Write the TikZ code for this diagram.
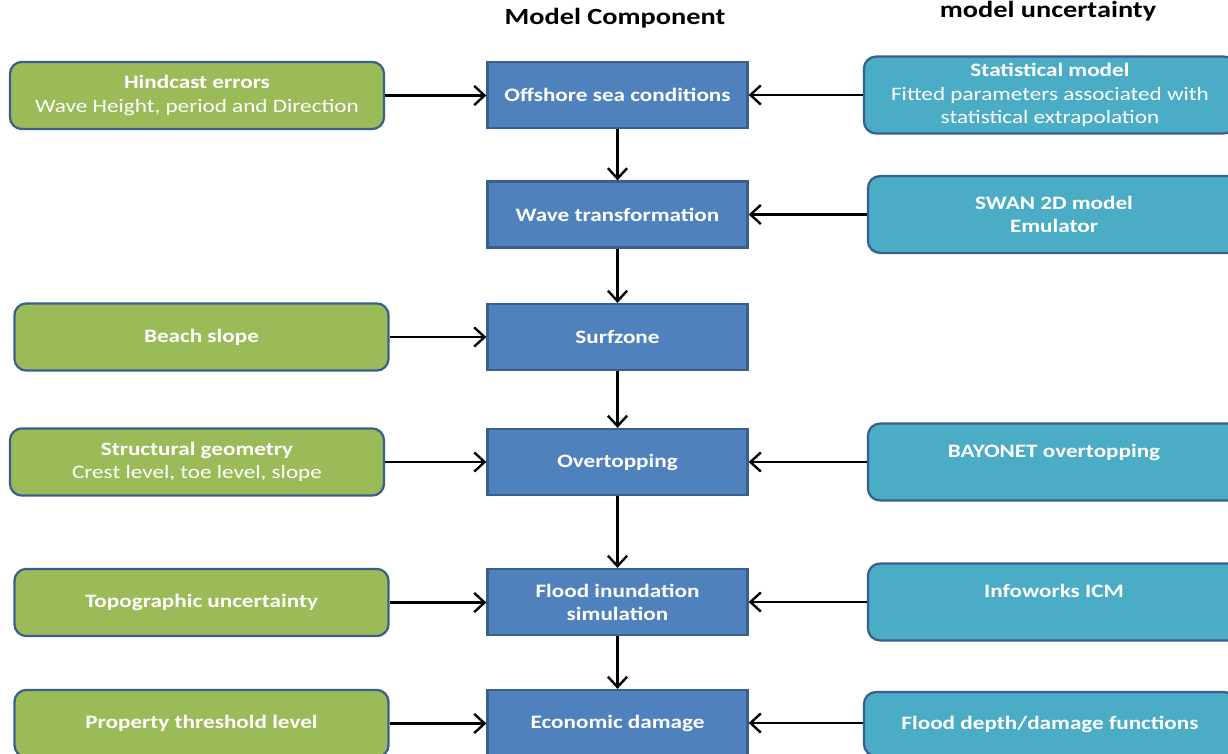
\documentclass[tikz,border=0pt]{standalone}
\usepackage{fontspec}
\setmainfont[FakeStretch=1.22]{Carlito}
\usepackage{xcolor}
\usepackage{tikz}
\usetikzlibrary{arrows.meta, positioning}

\definecolor{compblue}{HTML}{4F81BD}
\definecolor{inpgreen}{HTML}{9BBB59}
\definecolor{modcyan}{HTML}{4BACC6}
\definecolor{edgeblue}{HTML}{3A5F8C}

\begin{document}
\begin{tikzpicture}[
    x=0.025cm, y=-0.025cm,
    every node/.style={font=\fontsize{13.5}{16.5}\selectfont\bfseries, text=white, align=center},
    comp/.style={rectangle, draw=edgeblue, line width=1.6pt, fill=compblue,
                 minimum width=6.5cm, minimum height=1.65cm, inner sep=2pt},
    inp/.style={rectangle, draw=edgeblue, line width=1.6pt, fill=inpgreen, rounded corners=0.3cm,
                minimum width=9.35cm, minimum height=1.68cm, inner sep=2pt},
    umod/.style={rectangle, draw=edgeblue, line width=1.6pt, fill=modcyan, rounded corners=0.3cm,
                 minimum width=9.3cm, minimum height=1.92cm, inner sep=2pt},
    upper/.style={text height=0.3cm, text depth=0.55cm},
    head/.style={text=black, font=\fontsize{16.5}{19}\selectfont\bfseries},
    arr/.style={-{Straight Barb[length=2.6mm, width=4.8mm, line width=1.7pt]}, line width=2pt, black},
  ]
    \clip (0,0) rectangle (1228,754);
    \useasboundingbox (0,0) rectangle (1228,754);
    % column headers
    \node[head] (hcomp) at (615, 18) {Model Component};
    \node[head] (hunc) at (1048, 11) {model uncertainty};
    % model components
    \node[comp] (off) at (617.5, 95) {Offshore sea conditions};
    \node[comp] (wave) at (617.5, 214.5) {Wave transformation};
    \node[comp] (surf) at (617.5, 337) {Surfzone};
    \node[comp] (over) at (617.5, 462) {Overtopping};
    \node[comp] (flood) at (617.5, 602) {Flood inundation\\simulation};
    \node[comp] (econ) at (617.5, 723) {Economic damage};
    % input uncertainties
    \node[inp] (hind) at (197, 95.5) {Hindcast errors\\\mdseries Wave Height, period and Direction};
    \node[inp] (beach) at (201.5, 337) {Beach slope};
    \node[inp] (struct) at (197, 462) {Structural geometry\\\mdseries Crest level, toe level, slope};
    \node[inp] (topo) at (201.5, 602.5) {Topographic uncertainty};
    \node[inp] (prop) at (201.5, 723.5) {Property threshold level};
    % model uncertainties
    \node[umod] (stat) at (1050, 95) {Statistical model\\\mdseries Fitted parameters associated with\\\mdseries statistical extrapolation};
    \node[umod] (swan) at (1054, 214.5) {SWAN 2D model\\Emulator};
    \node[umod, upper] (bayo) at (1054, 462) {BAYONET overtopping};
    \node[umod, upper] (info) at (1054, 602) {Infoworks ICM};
    \node[umod, minimum height=1.6cm] (depth) at (1050, 724) {Flood depth/damage functions};
    % chain
    \foreach \a/\b in {off/wave, wave/surf, surf/over, over/flood, flood/econ}
      \draw[arr] (\a) -- (\b);
    \foreach \g/\c in {hind/off, beach/surf, struct/over, topo/flood, prop/econ}
      \draw[arr] (\g.east) -- (\g.east -| \c.west);
    \foreach \u/\c in {stat/off, swan/wave, bayo/over, info/flood, depth/econ}
      \draw[arr] (\u.west |- \c) -- (\c.east);
\end{tikzpicture}
\end{document}
